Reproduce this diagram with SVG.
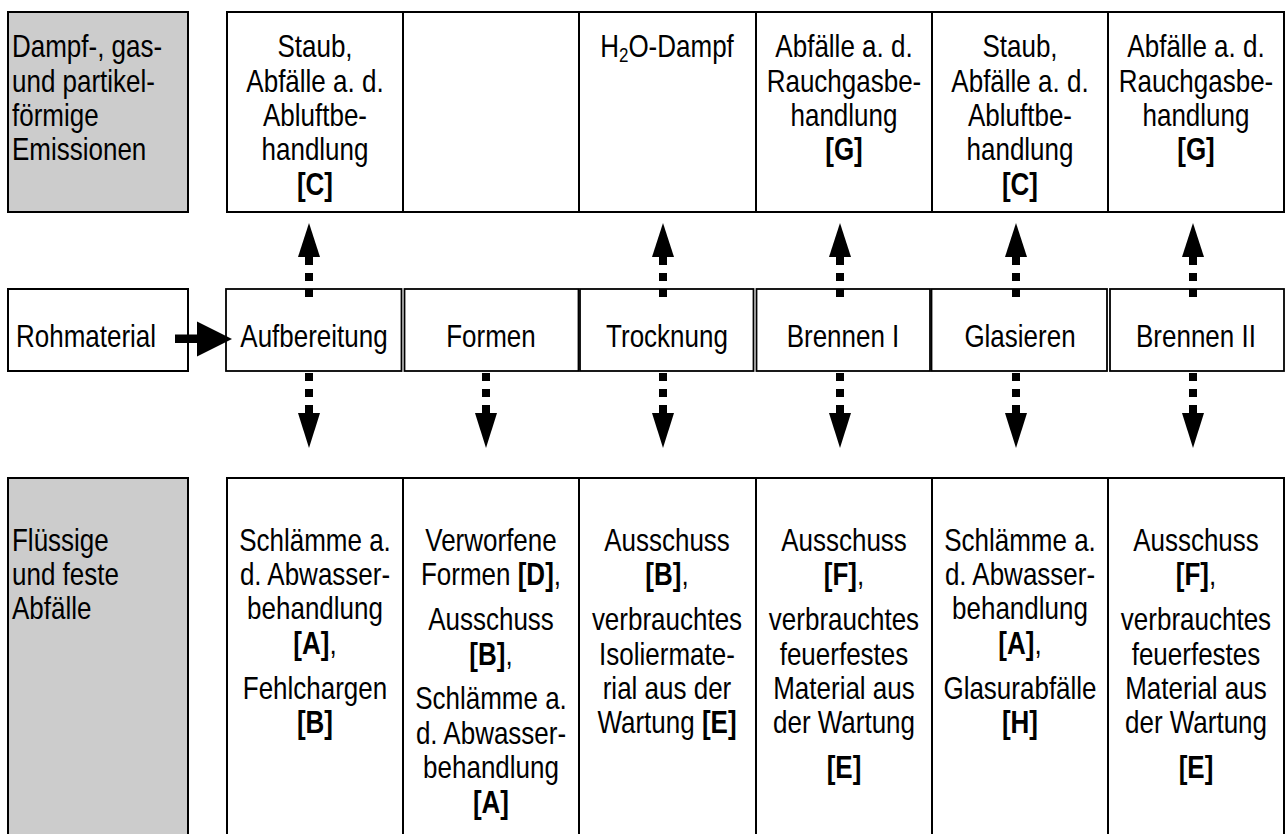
<svg xmlns="http://www.w3.org/2000/svg" width="1286" height="834" viewBox="0 0 1286 834">
  <style>
    .box { fill: #ffffff; stroke: #000000; stroke-width: 2; }
    .gray { fill: #cccccc; stroke: #000000; stroke-width: 2; }
    .pbox { fill: #ffffff; stroke: #000000; stroke-width: 1.8; }
    text { font-family: "Liberation Sans", Arial, sans-serif; font-size: 26px; fill: #000000; }
    .c { text-anchor: middle; }
    .b { font-weight: bold; }
    .shaft { stroke: #000000; stroke-width: 8; stroke-dasharray: 8 8; fill: none; }
    .head { fill: #000000; }
  </style>
  <defs>
    <polygon id="headUp" class="head" points="0,0 11,34 -11,34"/>
    <polygon id="headDown" class="head" points="0,35 11,0 -11,0"/>
  </defs>

  <rect width="1286" height="834" fill="#ffffff"/>

  <!-- Emissions row -->
  <g id="emissions-label">
    <rect class="gray" x="8" y="12" width="180" height="200"/>
    <text x="12" transform="translate(0,57) scale(1,1.18)">Dampf-, gas-</text>
    <text x="12" transform="translate(0,92) scale(1,1.18)">und partikel-</text>
    <text x="12" transform="translate(0,126) scale(1,1.18)">förmige</text>
    <text x="12" transform="translate(0,160) scale(1,1.18)">Emissionen</text>
  </g>
  <g id="emission-aufbereitung">
    <rect class="box" x="227" y="12" width="176" height="200"/>
    <text class="c" x="315" transform="translate(0,57) scale(1,1.18)">Staub,</text>
    <text class="c" x="315" transform="translate(0,92) scale(1,1.18)">Abfälle a. d.</text>
    <text class="c" x="315" transform="translate(0,126) scale(1,1.18)">Abluftbe-</text>
    <text class="c" x="315" transform="translate(0,160) scale(1,1.18)">handlung</text>
    <text class="c b" x="315" transform="translate(0,195) scale(1,1.18)">[C]</text>
  </g>
  <g id="emission-formen">
    <rect class="box" x="403" y="12" width="176" height="200"/>
  </g>
  <g id="emission-trocknung">
    <rect class="box" x="579" y="12" width="177" height="200"/>
    <text class="c" x="667" transform="translate(0,57) scale(1,1.18)">H<tspan font-size="17" dy="4">2</tspan><tspan dy="-4">O-Dampf</tspan></text>
  </g>
  <g id="emission-brennen1">
    <rect class="box" x="756" y="12" width="176" height="200"/>
    <text class="c" x="844" transform="translate(0,57) scale(1,1.18)">Abfälle a. d.</text>
    <text class="c" x="844" transform="translate(0,92) scale(1,1.18)">Rauchgasbe-</text>
    <text class="c" x="844" transform="translate(0,126) scale(1,1.18)">handlung</text>
    <text class="c b" x="844" transform="translate(0,160) scale(1,1.18)">[G]</text>
  </g>
  <g id="emission-glasieren">
    <rect class="box" x="932" y="12" width="176" height="200"/>
    <text class="c" x="1020" transform="translate(0,57) scale(1,1.18)">Staub,</text>
    <text class="c" x="1020" transform="translate(0,92) scale(1,1.18)">Abfälle a. d.</text>
    <text class="c" x="1020" transform="translate(0,126) scale(1,1.18)">Abluftbe-</text>
    <text class="c" x="1020" transform="translate(0,160) scale(1,1.18)">handlung</text>
    <text class="c b" x="1020" transform="translate(0,195) scale(1,1.18)">[C]</text>
  </g>
  <g id="emission-brennen2">
    <rect class="box" x="1108" y="12" width="176" height="200"/>
    <text class="c" x="1196" transform="translate(0,57) scale(1,1.18)">Abfälle a. d.</text>
    <text class="c" x="1196" transform="translate(0,92) scale(1,1.18)">Rauchgasbe-</text>
    <text class="c" x="1196" transform="translate(0,126) scale(1,1.18)">handlung</text>
    <text class="c b" x="1196" transform="translate(0,160) scale(1,1.18)">[G]</text>
  </g>

  <!-- Process row -->
  <g id="rohmaterial">
    <rect class="box" x="8" y="289" width="180" height="82"/>
    <text x="16" transform="translate(0,347) scale(1,1.18)">Rohmaterial</text>
  </g>
  <g id="aufbereitung">
    <rect class="pbox" x="226" y="289" width="175.5" height="82"/>
    <text class="c" x="314" transform="translate(0,347) scale(1,1.18)">Aufbereitung</text>
  </g>
  <g id="formen">
    <rect class="pbox" x="404.5" y="289" width="174" height="82"/>
    <text class="c" x="491" transform="translate(0,347) scale(1,1.18)">Formen</text>
  </g>
  <g id="trocknung">
    <rect class="pbox" x="580" y="289" width="173.5" height="82"/>
    <text class="c" x="667" transform="translate(0,347) scale(1,1.18)">Trocknung</text>
  </g>
  <g id="brennen1">
    <rect class="pbox" x="756.5" y="289" width="173.5" height="82"/>
    <text class="c" x="843" transform="translate(0,347) scale(1,1.18)">Brennen I</text>
  </g>
  <g id="glasieren">
    <rect class="pbox" x="931.5" y="289" width="175.5" height="82"/>
    <text class="c" x="1020" transform="translate(0,347) scale(1,1.18)">Glasieren</text>
  </g>
  <g id="brennen2">
    <rect class="pbox" x="1110" y="289" width="174" height="82"/>
    <text class="c" x="1196" transform="translate(0,347) scale(1,1.18)">Brennen II</text>
  </g>

  <!-- Waste row -->
  <g id="waste-label">
    <rect class="gray" x="8" y="478" width="180" height="380"/>
    <text x="12" transform="translate(0,551) scale(1,1.18)">Flüssige</text>
    <text x="12" transform="translate(0,585) scale(1,1.18)">und feste</text>
    <text x="12" transform="translate(0,619) scale(1,1.18)">Abfälle</text>
  </g>
  <g id="waste-aufbereitung">
    <rect class="box" x="227" y="478" width="176" height="380"/>
    <text class="c" x="315" transform="translate(0,551) scale(1,1.18)">Schlämme a.</text>
    <text class="c" x="315" transform="translate(0,585) scale(1,1.18)">d. Abwasser-</text>
    <text class="c" x="315" transform="translate(0,619) scale(1,1.18)">behandlung</text>
    <text class="c" x="315" transform="translate(0,654) scale(1,1.18)"><tspan class="b">[A]</tspan>,</text>
    <text class="c" x="315" transform="translate(0,699) scale(1,1.18)">Fehlchargen</text>
    <text class="c b" x="315" transform="translate(0,733) scale(1,1.18)">[B]</text>
  </g>
  <g id="waste-formen">
    <rect class="box" x="403" y="478" width="176" height="380"/>
    <text class="c" x="491" transform="translate(0,551) scale(1,1.18)">Verworfene</text>
    <text class="c" x="491" transform="translate(0,585) scale(1,1.18)">Formen <tspan class="b">[D]</tspan>,</text>
    <text class="c" x="491" transform="translate(0,630) scale(1,1.18)">Ausschuss</text>
    <text class="c" x="491" transform="translate(0,665) scale(1,1.18)"><tspan class="b">[B]</tspan>,</text>
    <text class="c" x="491" transform="translate(0,709) scale(1,1.18)">Schlämme a.</text>
    <text class="c" x="491" transform="translate(0,744) scale(1,1.18)">d. Abwasser-</text>
    <text class="c" x="491" transform="translate(0,778) scale(1,1.18)">behandlung</text>
    <text class="c b" x="491" transform="translate(0,813) scale(1,1.18)">[A]</text>
  </g>
  <g id="waste-trocknung">
    <rect class="box" x="579" y="478" width="177" height="380"/>
    <text class="c" x="667" transform="translate(0,551) scale(1,1.18)">Ausschuss</text>
    <text class="c" x="667" transform="translate(0,585) scale(1,1.18)"><tspan class="b">[B]</tspan>,</text>
    <text class="c" x="667" transform="translate(0,630) scale(1,1.18)">verbrauchtes</text>
    <text class="c" x="667" transform="translate(0,665) scale(1,1.18)">Isoliermate-</text>
    <text class="c" x="667" transform="translate(0,699) scale(1,1.18)">rial aus der</text>
    <text class="c" x="667" transform="translate(0,733) scale(1,1.18)">Wartung <tspan class="b">[E]</tspan></text>
  </g>
  <g id="waste-brennen1">
    <rect class="box" x="756" y="478" width="176" height="380"/>
    <text class="c" x="844" transform="translate(0,551) scale(1,1.18)">Ausschuss</text>
    <text class="c" x="844" transform="translate(0,585) scale(1,1.18)"><tspan class="b">[F]</tspan>,</text>
    <text class="c" x="844" transform="translate(0,630) scale(1,1.18)">verbrauchtes</text>
    <text class="c" x="844" transform="translate(0,665) scale(1,1.18)">feuerfestes</text>
    <text class="c" x="844" transform="translate(0,699) scale(1,1.18)">Material aus</text>
    <text class="c" x="844" transform="translate(0,733) scale(1,1.18)">der Wartung</text>
    <text class="c b" x="844" transform="translate(0,778) scale(1,1.18)">[E]</text>
  </g>
  <g id="waste-glasieren">
    <rect class="box" x="932" y="478" width="176" height="380"/>
    <text class="c" x="1020" transform="translate(0,551) scale(1,1.18)">Schlämme a.</text>
    <text class="c" x="1020" transform="translate(0,585) scale(1,1.18)">d. Abwasser-</text>
    <text class="c" x="1020" transform="translate(0,619) scale(1,1.18)">behandlung</text>
    <text class="c" x="1020" transform="translate(0,654) scale(1,1.18)"><tspan class="b">[A]</tspan>,</text>
    <text class="c" x="1020" transform="translate(0,699) scale(1,1.18)">Glasurabfälle</text>
    <text class="c b" x="1020" transform="translate(0,733) scale(1,1.18)">[H]</text>
  </g>
  <g id="waste-brennen2">
    <rect class="box" x="1108" y="478" width="176" height="380"/>
    <text class="c" x="1196" transform="translate(0,551) scale(1,1.18)">Ausschuss</text>
    <text class="c" x="1196" transform="translate(0,585) scale(1,1.18)"><tspan class="b">[F]</tspan>,</text>
    <text class="c" x="1196" transform="translate(0,630) scale(1,1.18)">verbrauchtes</text>
    <text class="c" x="1196" transform="translate(0,665) scale(1,1.18)">feuerfestes</text>
    <text class="c" x="1196" transform="translate(0,699) scale(1,1.18)">Material aus</text>
    <text class="c" x="1196" transform="translate(0,733) scale(1,1.18)">der Wartung</text>
    <text class="c b" x="1196" transform="translate(0,778) scale(1,1.18)">[E]</text>
  </g>

  <!-- Connectors -->
  <g id="connectors">
    <!-- raw material feed -->
    <rect x="175" y="334.5" width="23" height="8.5" fill="#000000"/>
    <polygon class="head" points="197,321.5 232,339 197,356.5"/>

    <!-- emissions (upward) -->
    <line class="shaft" x1="309" y1="297" x2="309" y2="257"/>
    <use href="#headUp" x="309" y="223"/>
    <line class="shaft" x1="663" y1="297" x2="663" y2="257"/>
    <use href="#headUp" x="663" y="223"/>
    <line class="shaft" x1="840" y1="297" x2="840" y2="257"/>
    <use href="#headUp" x="840" y="223"/>
    <line class="shaft" x1="1016" y1="297" x2="1016" y2="257"/>
    <use href="#headUp" x="1016" y="223"/>
    <line class="shaft" x1="1193" y1="297" x2="1193" y2="257"/>
    <use href="#headUp" x="1193" y="223"/>

    <!-- wastes (downward) -->
    <line class="shaft" x1="309" y1="373" x2="309" y2="413"/>
    <use href="#headDown" x="309" y="413"/>
    <line class="shaft" x1="486" y1="373" x2="486" y2="413"/>
    <use href="#headDown" x="486" y="413"/>
    <line class="shaft" x1="663" y1="373" x2="663" y2="413"/>
    <use href="#headDown" x="663" y="413"/>
    <line class="shaft" x1="840" y1="373" x2="840" y2="413"/>
    <use href="#headDown" x="840" y="413"/>
    <line class="shaft" x1="1016" y1="373" x2="1016" y2="413"/>
    <use href="#headDown" x="1016" y="413"/>
    <line class="shaft" x1="1193" y1="373" x2="1193" y2="413"/>
    <use href="#headDown" x="1193" y="413"/>
  </g>
</svg>
